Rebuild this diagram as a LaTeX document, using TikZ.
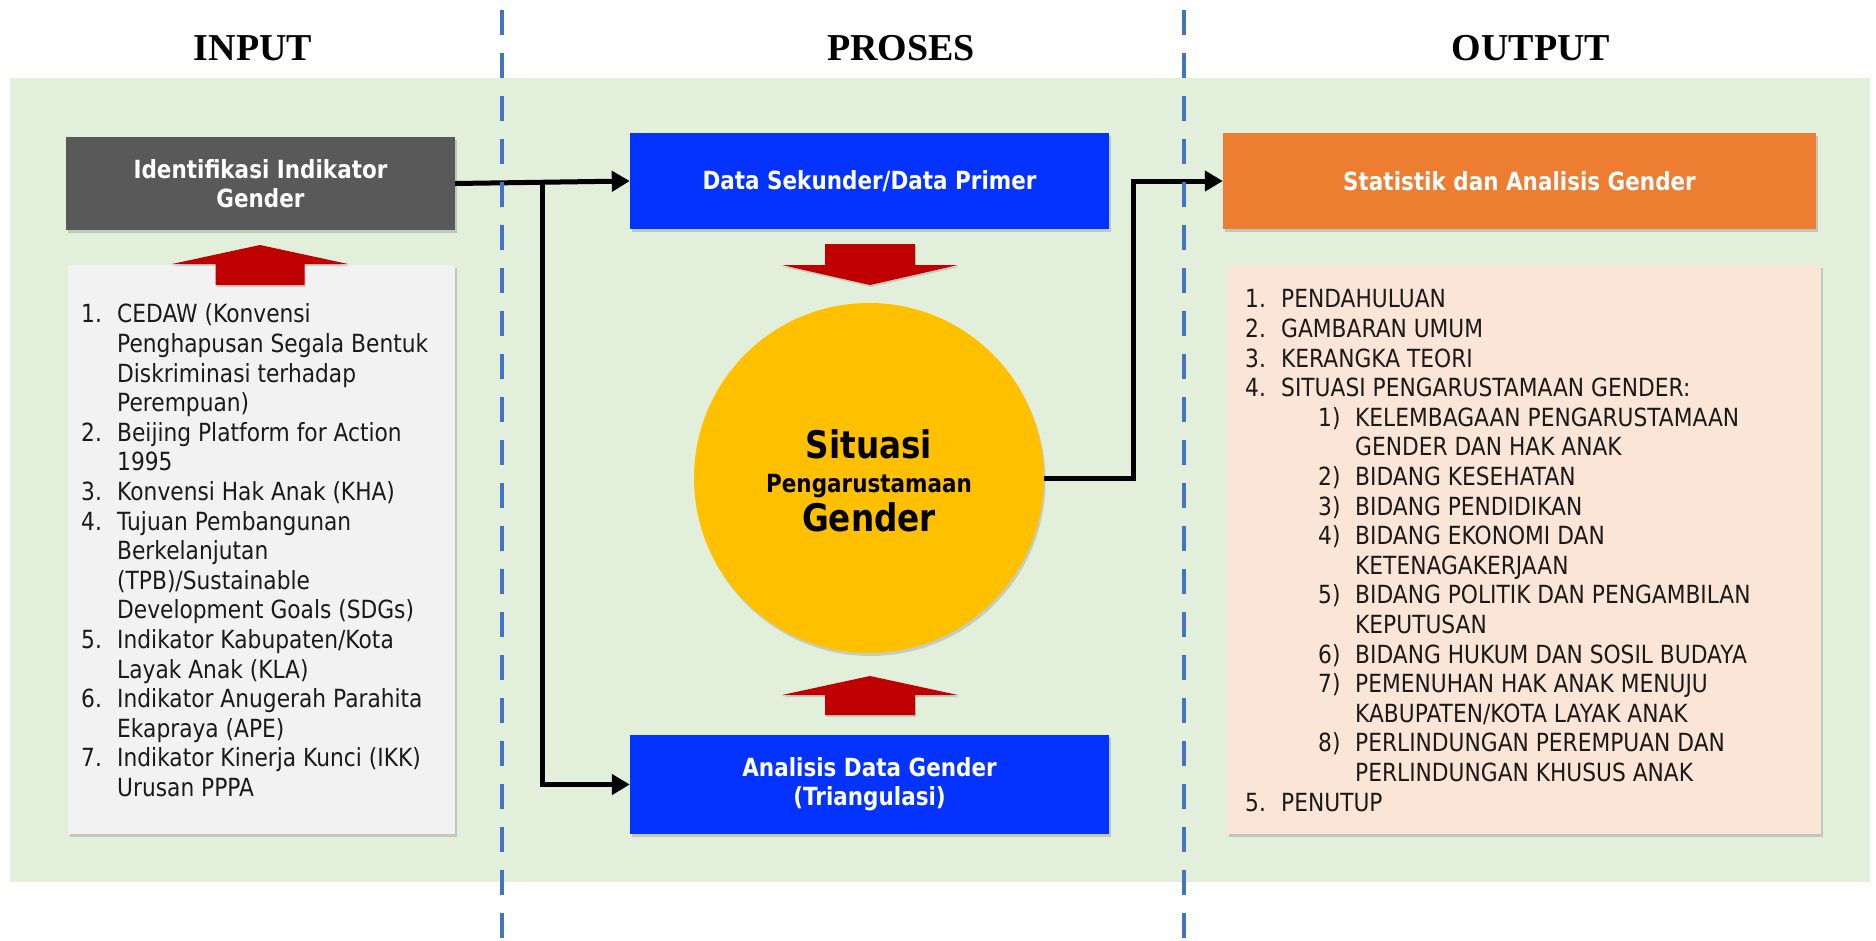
\documentclass[tikz,border=0pt]{standalone}
\usepackage{fontspec}
\usetikzlibrary{arrows.meta,shadows,calc}
\newfontfamily\lstfont[FakeStretch=0.87]{DejaVu Sans}
\newfontfamily\lblfont[FakeStretch=0.86]{DejaVu Sans}
\newfontfamily\ttlfont{Liberation Serif}
\definecolor{bggreen}{HTML}{E2EFDA}
\definecolor{graybox}{HTML}{595959}
\definecolor{lightbox}{HTML}{F2F2F2}
\definecolor{bluebox}{HTML}{0433FF}
\definecolor{orangebox}{HTML}{ED7D31}
\definecolor{peachbox}{HTML}{FBE5D6}
\definecolor{goldc}{HTML}{FFC000}
\definecolor{darkredc}{HTML}{C00000}
\definecolor{dashblue}{HTML}{4472C4}
\definecolor{txtc}{HTML}{1A1A1A}
\begin{document}
\begin{tikzpicture}[x=1pt,y=-1pt,
  shbox/.style={rectangle, inner sep=0pt, draw=none,
    drop shadow={opacity=0.35, shadow xshift=1.5pt, shadow yshift=-3pt}},
  lbl/.style={font=\lblfont\bfseries\fontsize{25}{29}\selectfont, text=white, align=center},
  conn/.style={line width=5pt, draw=black},
  arr/.style={-{Triangle[length=18pt,width=20pt]}},
  redarr/.style={fill=darkredc, drop shadow={opacity=0.3, shadow xshift=1pt, shadow yshift=-2pt}},
  divider/.style={draw=dashblue, line width=4.5pt, dash pattern=on 25pt off 18pt},
  ttl/.style={font=\ttlfont\bfseries\fontsize{38}{38}\selectfont},
  lst/.style={anchor=north west, inner sep=0pt, text=txtc, font=\lstfont\fontsize{25}{29.6}\selectfont},
  circtxt/.style={anchor=base, inner sep=0pt, text=black}
]
\useasboundingbox (0,0) rectangle (1876,940);
\fill[white] (0,0) rectangle (1876,940);
% background band
\fill[bggreen] (10,78) rectangle (1870,882);

% titles
\node[ttl] (tin) at (253,48) {INPUT};
\node[ttl] (tpr) at (901,48) {PROSES};
\node[ttl] (tout) at (1531,48) {OUTPUT};

% INPUT column
\node[shbox, fill=graybox, minimum width=389pt, minimum height=93pt, lbl] (idg) at (260.5,183.5) {Identifikasi Indikator\\Gender};
\node[shbox, fill=lightbox, minimum width=387pt, minimum height=569pt] (lbox) at (261.5,549.5) {};
\node[lst] (ltxt) at (81,302) {%
\begin{tabular}{@{}p{36pt}@{}l@{}}
1. & CEDAW (Konvensi\\
   & Penghapusan Segala Bentuk\\
   & Diskriminasi terhadap\\
   & Perempuan)\\
2. & Beijing Platform for Action\\
   & 1995\\
3. & Konvensi Hak Anak (KHA)\\
4. & Tujuan Pembangunan\\
   & Berkelanjutan\\
   & (TPB)/Sustainable\\
   & Development Goals (SDGs)\\
5. & Indikator Kabupaten/Kota\\
   & Layak Anak (KLA)\\
6. & Indikator Anugerah Parahita\\
   & Ekapraya (APE)\\
7. & Indikator Kinerja Kunci (IKK)\\
   & Urusan PPPA
\end{tabular}};
\fill[redarr] (260,245) -- (348,264) -- (304.5,264) -- (304.5,285) -- (215.5,285) -- (215.5,264) -- (172,264) -- cycle;

% PROSES column
\node[shbox, fill=bluebox, minimum width=479pt, minimum height=96pt, lbl] (dsp) at (869.5,181) {Data Sekunder/Data Primer};
\node[shbox, fill=bluebox, minimum width=479pt, minimum height=99pt, lbl] (adg) at (869.5,784.5) {Analisis Data Gender\\(Triangulasi)};
\node[circle, fill=goldc, minimum size=350pt, inner sep=0pt,
  drop shadow={opacity=0.3, shadow xshift=1.5pt, shadow yshift=-3pt}] (circ) at (869,478) {};
\node[circtxt, font=\lblfont\bfseries\fontsize{38}{38}\selectfont] (s1) at ($(circ.center)+(0,-19.5)$) {Situasi};
\node[circtxt, font=\lblfont\bfseries\fontsize{25}{25}\selectfont] (s2) at ($(circ.center)+(0,14)$) {Pengarustamaan};
\node[circtxt, font=\lblfont\bfseries\fontsize{38}{38}\selectfont] (s3) at ($(circ.center)+(0,53.5)$) {Gender};
\fill[redarr] (870,285) -- (958,265) -- (915,265) -- (915,244) -- (825,244) -- (825,265) -- (782,265) -- cycle;
\fill[redarr] (870,676) -- (958,695) -- (915,695) -- (915,715) -- (825,715) -- (825,695) -- (782,695) -- cycle;

% OUTPUT column
\node[shbox, fill=orangebox, minimum width=593pt, minimum height=96pt, lbl] (stat) at (1519.5,181) {Statistik dan Analisis Gender};
\node[shbox, fill=peachbox, minimum width=594pt, minimum height=569pt] (rbox) at (1524,549.5) {};
\node[lst] (rtxt) at (1245,287) {%
\begin{tabular}{@{}p{36pt}@{}p{37pt}@{}p{37pt}@{}l@{}}
1. & \multicolumn{3}{@{}l@{}}{PENDAHULUAN}\\
2. & \multicolumn{3}{@{}l@{}}{GAMBARAN UMUM}\\
3. & \multicolumn{3}{@{}l@{}}{KERANGKA TEORI}\\
4. & \multicolumn{3}{@{}l@{}}{SITUASI PENGARUSTAMAAN GENDER:}\\
 & & 1) & KELEMBAGAAN PENGARUSTAMAAN\\
 & & & GENDER DAN HAK ANAK\\
 & & 2) & BIDANG KESEHATAN\\
 & & 3) & BIDANG PENDIDIKAN\\
 & & 4) & BIDANG EKONOMI DAN\\
 & & & KETENAGAKERJAAN\\
 & & 5) & BIDANG POLITIK DAN PENGAMBILAN\\
 & & & KEPUTUSAN\\
 & & 6) & BIDANG HUKUM DAN SOSIL BUDAYA\\
 & & 7) & PEMENUHAN HAK ANAK MENUJU\\
 & & & KABUPATEN/KOTA LAYAK ANAK\\
 & & 8) & PERLINDUNGAN PEREMPUAN DAN\\
 & & & PERLINDUNGAN KHUSUS ANAK\\
5. & \multicolumn{3}{@{}l@{}}{PENUTUP}
\end{tabular}};

% connectors
\draw[conn, arr] (idg.east) -- (dsp.west);
\coordinate (br) at ($(idg.east)!0.5!(dsp.west)$);
\draw[conn, arr] (br) |- (adg.west);
\coordinate (rj) at (1133,478);
\draw[conn, arr] (circ.east) -- (rj) |- (stat.west);

% dividers
\coordinate (d1top) at (502,10);
\coordinate (d1bot) at (502,940);
\coordinate (d2top) at (1184,10);
\coordinate (d2bot) at (1184,940);
\draw[divider] (d1top) -- (d1bot);
\draw[divider] (d2top) -- (d2bot);
\end{tikzpicture}
\end{document}
